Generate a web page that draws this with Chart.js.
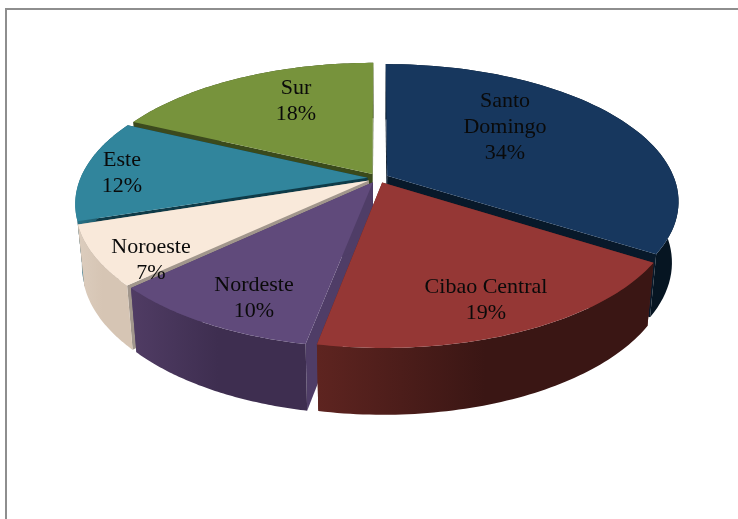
<!DOCTYPE html>
<html>
<head>
<meta charset="utf-8">
<style>
html,body{margin:0;padding:0;background:#fff;overflow:hidden}
#wrap{position:absolute;left:0;top:0;width:738px;height:519px}
#frame{position:absolute;left:5px;top:8px;width:760px;height:540px;border:2px solid #8e8e8e}
canvas{position:absolute;left:0;top:0}
</style>
<script src="https://cdn.jsdelivr.net/npm/chart.js@4"></script>
</head>
<body>
<div id="wrap"><div id="frame"></div><canvas id="c" width="738" height="519"></canvas></div>
<script>
const categories = ["Santo Domingo", "Cibao Central", "Nordeste", "Noroeste", "Este", "Sur"];
const shares = [34, 19, 10, 7, 12, 18];
const topColors = ["#17375E", "#953735", "#604A7B", "#F9E9DA", "#31859C", "#77933C"];
const wallLeft = ["#0A1E30", "#5E2420", "#503C64", "#DCCDBE", "#2A7488", "#3C4A1E"];
const wallRight = ["#061522", "#3A1614", "#3E2E50", "#D6C5B4", "#1E5A6A", "#3C4A1E"];
const cutColors = ["#08192A", "#5E2420", "#4F3D67", "#A1968C", "#0F3B48", "#3A4A1C"];
const paintOrder = [5, 0, 4, 3, 2, 1];
const labelLines = [["Santo", "Domingo", "34%"], ["Cibao Central", "19%"], ["Nordeste", "10%"], ["Noroeste", "7%"], ["Este", "12%"], ["Sur", "18%"]];
const labelSpots = [[505, 127], [486, 300], [254, 298], [151, 260], [122, 173], [296, 101]];

const view = {cx: 378, cy: 178, ry: 133, persp: 0.185};

function project(U, V, R) {
  const d = 1 + view.persp * V;
  return [view.cx + R * U / d, view.cy - view.ry * V / d];
}
function lower(p) {
  const depth = 0.04 * (p[1] - view.cy) + 60;
  return [view.cx + (p[0] - view.cx) * 0.978, p[1] + depth];
}
function poly(ctx, pts, fill) {
  ctx.beginPath();
  pts.forEach((p, i) => i ? ctx.lineTo(p[0], p[1]) : ctx.moveTo(p[0], p[1]));
  ctx.closePath();
  ctx.fillStyle = fill;
  ctx.fill();
}

const pie3d = {
  id: "pie3d",
  beforeDatasetsDraw(chart) {
    const ctx = chart.ctx;
    const arcs = chart.getDatasetMeta(0).data;
    paintOrder.forEach(i => {
      const a = arcs[i];
      const R = a.outerRadius;
      const e = a.options.offset / R;
      const mid = (a.startAngle + a.endAngle) / 2;
      const ou = Math.cos(mid) * e, ov = -Math.sin(mid) * e;
      const apex = project(ou, ov, R);
      const rim = [];
      const steps = 64;
      for (let s = 0; s <= steps; s++) {
        const t = a.startAngle + (a.endAngle - a.startAngle) * s / steps;
        rim.push(project(ou + Math.cos(t), ov - Math.sin(t), R));
      }
      const first = rim[0], last = rim[steps];
      poly(ctx, [apex, first, lower(first), lower(apex)], cutColors[i]);
      poly(ctx, [apex, last, lower(last), lower(apex)], cutColors[i]);
      const xs = rim.map(p => p[0]);
      const g = ctx.createLinearGradient(Math.min(...xs), 0, Math.max(...xs), 0);
      g.addColorStop(0, wallLeft[i]);
      g.addColorStop(0.5, wallRight[i]);
      g.addColorStop(1, wallRight[i]);
      poly(ctx, rim.concat(rim.slice().reverse().map(lower)), g);
      poly(ctx, [apex].concat(rim), topColors[i]);
    });
    return false;
  },
  afterDraw(chart) {
    const ctx = chart.ctx;
    ctx.save();
    ctx.font = '22px "Liberation Serif"';
    ctx.fillStyle = "#0A0A0A";
    ctx.textAlign = "center";
    ctx.textBaseline = "middle";
    labelLines.forEach((lines, i) => {
      const top = labelSpots[i][1] - (lines.length - 1) * 13;
      lines.forEach((t, k) => ctx.fillText(t, labelSpots[i][0], top + k * 26));
    });
    ctx.restore();
  }
};

new Chart(document.getElementById("c"), {
  type: "pie",
  data: {
    labels: categories,
    datasets: [{data: shares, backgroundColor: topColors, borderWidth: 0, offset: 10.5}]
  },
  options: {
    responsive: false,
    animation: false,
    radius: 287,
    layout: {padding: 0},
    plugins: {legend: {display: false}, tooltip: {enabled: false}, title: {display: false}}
  },
  plugins: [pie3d]
});
</script>
</body>
</html>
